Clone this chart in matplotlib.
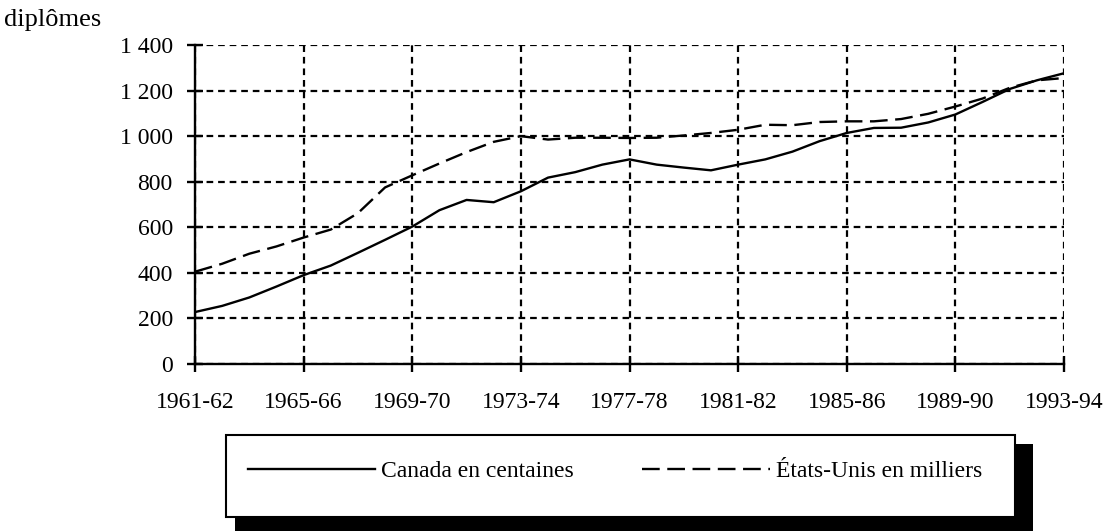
import matplotlib
matplotlib.use("Agg")
import matplotlib.pyplot as plt
from matplotlib.patches import Rectangle
from matplotlib.ticker import FuncFormatter

plt.rcParams["font.family"] = ["Liberation Serif", "DejaVu Serif"]

# Data
years = ["1961-62", "1962-63", "1963-64", "1964-65", "1965-66", "1966-67",
         "1967-68", "1968-69", "1969-70", "1970-71", "1971-72", "1972-73",
         "1973-74", "1974-75", "1975-76", "1976-77", "1977-78", "1978-79",
         "1979-80", "1980-81", "1981-82", "1982-83", "1983-84", "1984-85",
         "1985-86", "1986-87", "1987-88", "1988-89", "1989-90", "1990-91",
         "1991-92", "1992-93", "1993-94"]

canada = [228, 255, 292, 340, 390, 432, 488, 545, 603, 675, 720, 710,
          758, 818, 842, 875, 898, 875, 862, 850, 875, 898, 932, 978,
          1014, 1036, 1037, 1060, 1095, 1150, 1207, 1245, 1276]

usa = [405, 440, 484, 516, 555, 590, 662, 775, 828, 880, 930, 975,
       1000, 985, 993, 993, 992, 993, 1003, 1014, 1028, 1050, 1048, 1062,
       1065, 1065, 1075, 1098, 1130, 1165, 1212, 1245, 1255]

tick_every = 4

fig = plt.figure(figsize=(11.03, 5.31), dpi=100)
ax = fig.add_axes([195 / 1103, 1 - 364 / 531, (1064 - 195) / 1103, (364 - 45) / 531])

x = list(range(len(years)))
l1, = ax.plot(x, canada, color="black", lw=1.7, label="Canada en centaines")
l2, = ax.plot(x, usa, color="black", lw=1.7, dashes=(7.5, 3.2),
              label="États-Unis en milliers")

ax.set_xlim(0, len(years) - 1)
ax.set_ylim(0, 1400)
ax.set_xticks(x[::tick_every])
ax.set_xticklabels(years[::tick_every])
ax.set_yticks(range(0, 1401, 200))
ax.yaxis.set_major_formatter(FuncFormatter(lambda v, p: f"{int(v):,}".replace(",", " ")))

# dotted-looking dashed grid, like the old spreadsheet export
ax.grid(True, color="black", lw=1.6, dashes=(3, 2.2))
ax.set_axisbelow(True)
for s in ["top", "right"]:
    ax.spines[s].set_visible(False)
for s in ["left", "bottom"]:
    ax.spines[s].set_linewidth(1.7)
ax.tick_params(direction="inout", length=12, width=1.7, labelsize=17)
ax.tick_params(axis="y", pad=10)
ax.tick_params(axis="x", pad=14)

fig.text(0.004, 0.962, "diplômes", fontsize=19, ha="left", va="center")

# legend box with shadow
fig.patches.append(Rectangle((235 / 1103, 0), (1033 - 235) / 1103, (531 - 444) / 531,
                             transform=fig.transFigure, facecolor="black",
                             edgecolor="none", zorder=1))
fig.patches.append(Rectangle((226 / 1103, 1 - 517 / 531), (1015 - 226) / 1103, (517 - 435) / 531,
                             transform=fig.transFigure, facecolor="white",
                             edgecolor="black", lw=1.5, zorder=2))
leg = fig.legend(handles=[l1, l2], loc="center", ncol=2, frameon=False,
                 bbox_to_anchor=(615 / 1103, 1 - 471 / 531), fontsize=17,
                 handlelength=5.4, handletextpad=0.25, columnspacing=2.9)
leg.set_zorder(3)

fig.savefig("out.png", dpi=100)
